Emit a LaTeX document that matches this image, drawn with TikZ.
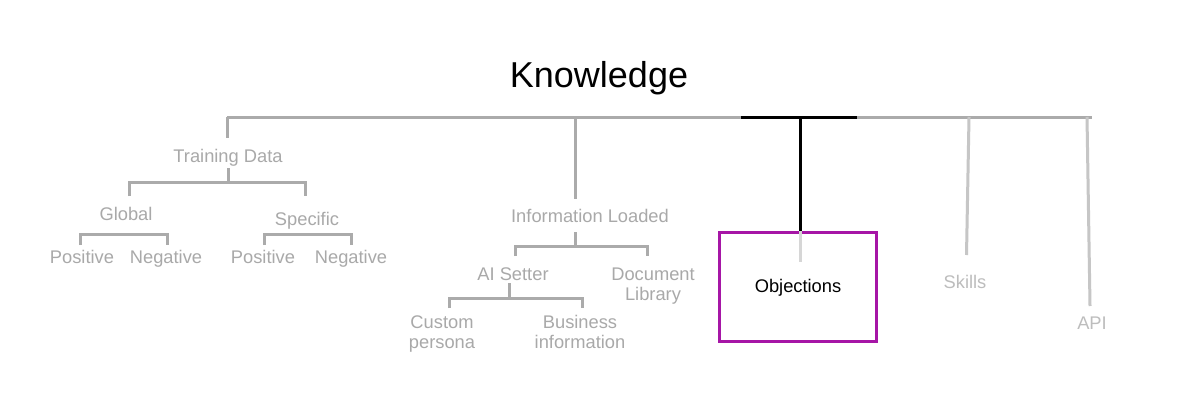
\documentclass[tikz,border=0pt]{standalone}
\usepackage{fontspec}
\setmainfont{Liberation Sans}
\definecolor{lg}{HTML}{ABABAB}
\definecolor{tg}{HTML}{A9A9A9}
\definecolor{lg2}{HTML}{C6C6C6}
\definecolor{tg2}{HTML}{BDBDBD}
\definecolor{lg3}{HTML}{D6D6D6}
\definecolor{pur}{HTML}{A616A6}
\begin{document}
\begin{tikzpicture}[x=1pt,y=-1pt,
  gline/.style={draw=lg,line width=3pt},
  gline2/.style={draw=lg2,line width=3pt},
  bline/.style={draw=black,line width=3pt},
  lbl/.style={text=tg,inner sep=0pt,align=center,anchor=base,font=\fontsize{18.3}{20}\selectfont},
  lbl2/.style={lbl,text=tg2},
]
\useasboundingbox (0,0) rectangle (1182,415);
\fill[white] (0,0) rectangle (1182,415);

% title
\node[inner sep=0pt,anchor=base,font=\fontsize{36}{40}\selectfont] (know) at (599,87) {Knowledge};

% top bar
\coordinate (bL) at (227,117);
\coordinate (bR) at (1092,117);
\coordinate (bIL) at (575,117);
\coordinate (bOb1) at (741,117);
\coordinate (bOb2) at (857,117);
\coordinate (bOb) at (800,117);
\coordinate (bSk) at (969,117);
\coordinate (bApi) at (1087,117);
\draw[gline] (bL) -- (bR);

% nodes (positioned at the baseline of their last line)
\node[lbl] (td) at (228,162) {Training Data};
\node[lbl] (glob) at (126,220) {Global};
\node[lbl] (spec) at (307,225) {Specific};
\node[lbl] (gpos) at (82,263) {Positive};
\node[lbl] (gneg) at (166,263) {Negative};
\node[lbl] (spos) at (263,263) {Positive};
\node[lbl] (sneg) at (351,263) {Negative};
\node[lbl] (il) at (590,222.5) {Information Loaded};
\node[lbl] (ais) at (513,280) {AI Setter};
\node[lbl] (doc) at (653,300) {Document\\Library};
\node[lbl] (cus) at (442,348.5) {Custom\\persona};
\node[lbl] (bus) at (580,348.5) {Business\\information};
\node[draw=pur,line width=3pt,minimum width=157pt,minimum height=109pt,inner sep=0pt] (objbox) at (797.5,286.5) {};
\node[inner sep=0pt,anchor=base,font=\fontsize{18.3}{20}\selectfont] (obj) at (798,292.5) {Objections};
\node[lbl2] (sk) at (965,288.5) {Skills};
\node[lbl2] (api) at (1092,329) {API};

% Training data branch
\coordinate (tdTop) at (227,138);
\draw[gline] (bL) -- (tdTop);
\coordinate (tdB1) at (228,168);
\coordinate (tdB2) at (228,182);
\coordinate (tdL) at (129,182);
\coordinate (tdR) at (305,182);
\coordinate (tdLd) at (129,196);
\coordinate (tdRd) at (305,196);
\draw[gline] (tdB1) -- (tdB2);
\draw[gline] (tdLd) -- (tdL) -- (tdR) -- (tdRd);
\coordinate (gA) at (80,245);
\coordinate (gB) at (80,234);
\coordinate (gC) at (167,234);
\coordinate (gD) at (167,245);
\draw[gline] (gA) -- (gB) -- (gC) -- (gD);
\coordinate (sA) at (264,245);
\coordinate (sB) at (264,234);
\coordinate (sC) at (351,234);
\coordinate (sD) at (351,245);
\draw[gline] (sA) -- (sB) -- (sC) -- (sD);

% Information loaded branch
\coordinate (ilTop) at (575,199);
\draw[gline] (bIL) -- (ilTop);
\coordinate (ilB1) at (575,232);
\coordinate (ilB2) at (575,246);
\coordinate (ilL) at (515,246);
\coordinate (ilR) at (647,246);
\coordinate (ilLd) at (515,256);
\coordinate (ilRd) at (647,256);
\draw[gline] (ilB1) -- (ilB2);
\draw[gline] (ilLd) -- (ilL) -- (ilR) -- (ilRd);
\coordinate (aB1) at (509,283);
\coordinate (aB2) at (509,298);
\coordinate (aL) at (449,298);
\coordinate (aR) at (582,298);
\coordinate (aLd) at (449,308);
\coordinate (aRd) at (582,308);
\draw[gline] (aB1) -- (aB2);
\draw[gline] (aLd) -- (aL) -- (aR) -- (aRd);

% Objections branch
\coordinate (obIn) at (800,262);
\draw[draw=lg3,line width=3pt] (objbox.north -| bOb) -- (obIn);
\draw[bline] (bOb1) -- (bOb2);
\draw[bline] (bOb) -- (objbox.north -| bOb);

% Skills and API
\coordinate (skBot) at (966.5,255);
\coordinate (apiBot) at (1090,306);
\draw[gline2] (bSk) -- (skBot);
\draw[gline2] (bApi) -- (apiBot);
\end{tikzpicture}
\end{document}
